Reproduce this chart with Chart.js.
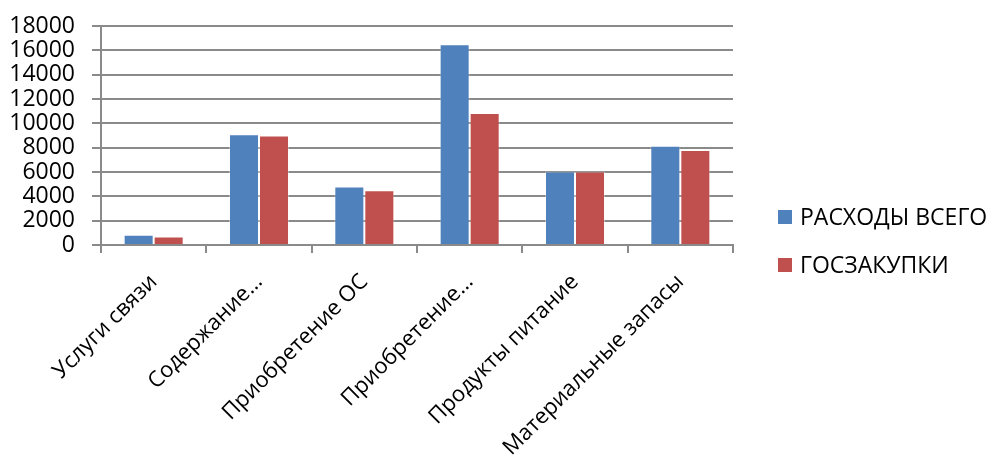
<!DOCTYPE html>
<html>
<head>
<meta charset="utf-8">
<script src="https://cdn.jsdelivr.net/npm/chart.js@4/dist/chart.umd.min.js"></script>
<style>
  html, body { margin: 0; padding: 0; background: #fff; }
  #wrap { width: 991px; height: 459px; }
</style>
</head>
<body>
<div id="wrap"><canvas id="c" width="991" height="459"></canvas></div>
<script>
// Spending categories and the two series
const categories = [
  'Услуги связи',
  'Содержание…',
  'Приобретение ОС',
  'Приобретение…',
  'Продукты питание',
  'Материальные запасы'
];
const seriesNames = ['РАСХОДЫ ВСЕГО', 'ГОСЗАКУПКИ'];
const totalSpending = [850, 9100, 4800, 16500, 6050, 8150];
const procurement   = [700, 9000, 4500, 10850, 6050, 7800];
const yTicks = [0, 2000, 4000, 6000, 8000, 10000, 12000, 14000, 16000, 18000];

const FONT = '"Open Sans", "DejaVu Sans", sans-serif';
const GRID = '#8a8a8a';

// Legend drawn at the right, stacked vertically
const sideLegend = {
  id: 'sideLegend',
  afterDraw(chart) {
    const ctx = chart.ctx;
    const rows = [217, 265];
    ctx.save();
    ctx.font = '23px ' + FONT;
    ctx.textBaseline = 'middle';
    ctx.textAlign = 'left';
    chart.data.datasets.forEach((ds, i) => {
      const y = rows[i];
      ctx.fillStyle = ds.backgroundColor;
      ctx.fillRect(778, y - 7, 14, 14);
      ctx.fillStyle = '#000';
      ctx.fillText(ds.label, 800, y + 1);
    });
    ctx.restore();
  }
};

new Chart(document.getElementById('c'), {
  type: 'bar',
  data: {
    labels: categories,
    datasets: [
      { label: seriesNames[0], data: totalSpending, backgroundColor: '#4F81BD',
        borderColor: 'rgba(255,255,255,0.35)', borderWidth: 1,
        barPercentage: 1.0, categoryPercentage: 0.57 },
      { label: seriesNames[1], data: procurement, backgroundColor: '#C0504D',
        borderColor: 'rgba(255,255,255,0.35)', borderWidth: 1,
        barPercentage: 1.0, categoryPercentage: 0.57 }
    ]
  },
  options: {
    responsive: false,
    animation: false,
    layout: { padding: { top: 26, right: 258, left: 0, bottom: 0 } },
    plugins: {
      legend: { display: false },
      tooltip: { enabled: false }
    },
    scales: {
      x: {
        offset: true,
        grid: { offset: true, drawOnChartArea: false, drawTicks: true, tickLength: 8, color: GRID, lineWidth: 2 },
        border: { display: true, color: GRID, width: 2 },
        ticks: {
          autoSkip: false,
          minRotation: 45, maxRotation: 45,
          color: '#000',
          font: { family: FONT, size: 22 },
          padding: 16
        },
        afterFit(scale) {
          scale.height = 214;
          scale.paddingLeft = 0;
          scale.paddingRight = 0;
        }
      },
      y: {
        min: 0, max: 18000,
        afterBuildTicks(scale) {
          scale.ticks = yTicks.map(v => ({ value: v }));
        },
        grid: { color: GRID, lineWidth: 2, drawTicks: true, tickLength: 9 },
        border: { display: true, color: GRID, width: 2 },
        ticks: {
          autoSkip: false,
          color: '#000',
          font: { family: FONT, size: 23 },
          padding: 17,
          callback: v => String(v)
        },
        afterFit(scale) {
          scale.width = 101;
          scale.paddingTop = 0;
          scale.paddingBottom = 0;
        }
      }
    }
  },
  plugins: [sideLegend]
});
</script>
</body>
</html>
